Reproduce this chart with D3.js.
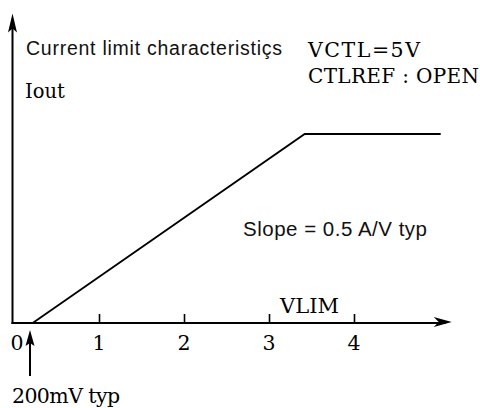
<!DOCTYPE html>
<html><head><meta charset="utf-8">
<script src="https://cdn.jsdelivr.net/npm/d3@7"></script>
<style>body{margin:0;background:#fff}svg{display:block}</style>
</head><body>
<script>
const xTicks = [1, 2, 3, 4];
const zeroLabel = "0";
const vlim = [0.22, 3.42, 5.02];
const iout = [0, 1.6, 1.6];
const xDomain = [0, 5];
const yMax = 2.62;

const W = 480, H = 408;
const svg = d3.select("body").append("svg").attr("width", W).attr("height", H);
const x = d3.scaleLinear().domain(xDomain).range([14, 439]);
const y = d3.scaleLinear().domain([0, 1.6]).range([323, 134]);
const ax0 = 12.5;

// axes
svg.append("line").attr("x1", ax0).attr("x2", ax0).attr("y1", y(0) + 1).attr("y2", y(yMax) + 6)
  .attr("stroke", "#000").attr("stroke-width", 2);
svg.append("path").attr("d", `M${ax0},${y(yMax)} L${ax0 - 4.5},${y(yMax) + 19} L${ax0},${y(yMax) + 15} L${ax0 + 4.5},${y(yMax) + 19} Z`).attr("fill", "#000");
const xEnd = x(5.15);
svg.append("line").attr("x1", ax0 - 1).attr("x2", xEnd - 6).attr("y1", y(0)).attr("y2", y(0))
  .attr("stroke", "#000").attr("stroke-width", 2);
svg.append("path").attr("d", `M${xEnd},${y(0) - 1} L${xEnd - 18},${y(0) - 6} L${xEnd - 13},${y(0) - 1} L${xEnd - 18},${y(0) + 4} Z`).attr("fill", "#000");

// ticks
const xAxis = d3.axisTop(x).tickValues(xTicks).tickSize(9).tickFormat("");
const gx = svg.append("g").attr("transform", `translate(0,${y(0)})`).call(xAxis);
gx.select(".domain").remove();
gx.selectAll(".tick line").attr("stroke", "#000").attr("stroke-width", 1.6);

const serif = "'DejaVu Serif', serif";
const sans = "'Liberation Sans', Arial, sans-serif";
svg.append("g").selectAll("text").data(xTicks).join("text")
  .attr("x", d => x(d)).attr("y", 350).attr("text-anchor", "middle")
  .attr("font-family", serif).attr("font-size", 20.5).text(d => d);
svg.append("text").attr("x", 17).attr("y", 350).attr("text-anchor", "middle")
  .attr("font-family", serif).attr("font-size", 20.5).text(zeroLabel);

// curve
const line = d3.line().x((d, i) => x(vlim[i])).y(d => y(d));
svg.append("path").attr("d", line(iout)).attr("fill", "none").attr("stroke", "#000").attr("stroke-width", 1.8);

// 200mV arrow
const ax = 30;
svg.append("line").attr("x1", ax).attr("x2", ax).attr("y1", 376).attr("y2", 338).attr("stroke", "#000").attr("stroke-width", 2);
svg.append("path").attr("d", `M${ax},330 L${ax - 4.5},346 L${ax},343 L${ax + 4.5},346 Z`).attr("fill", "#000");

// texts
svg.append("text").attr("x", 26).attr("y", 55).attr("font-family", sans).attr("font-size", 19.5)
  .attr("textLength", 256).attr("lengthAdjust", "spacing").attr("fill", "#111").text("Current limit characteristiçs");
svg.append("text").attr("x", 308).attr("y", 57).attr("font-family", serif).attr("font-size", 20.5)
  .attr("textLength", 112).attr("lengthAdjust", "spacing").text("VCTL=5V");
svg.append("text").attr("x", 308).attr("y", 83).attr("font-family", serif).attr("font-size", 20)
  .attr("textLength", 171).attr("lengthAdjust", "spacing").text("CTLREF : OPEN");
svg.append("text").attr("x", 25).attr("y", 98).attr("font-family", serif).attr("font-size", 19.5).text("Iout");
svg.append("text").attr("x", 243).attr("y", 236).attr("font-family", sans).attr("font-size", 20.5)
  .attr("textLength", 184).attr("lengthAdjust", "spacing").attr("fill", "#111").text("Slope = 0.5 A/V typ");
svg.append("text").attr("x", 280).attr("y", 313).attr("font-family", serif).attr("font-size", 21)
  .attr("textLength", 59).attr("lengthAdjust", "spacing").text("VLIM");
svg.append("text").attr("x", 12).attr("y", 403).attr("font-family", serif).attr("font-size", 20.5)
  .attr("textLength", 108).attr("lengthAdjust", "spacing").text("200mV typ");
</script>
</body></html>
